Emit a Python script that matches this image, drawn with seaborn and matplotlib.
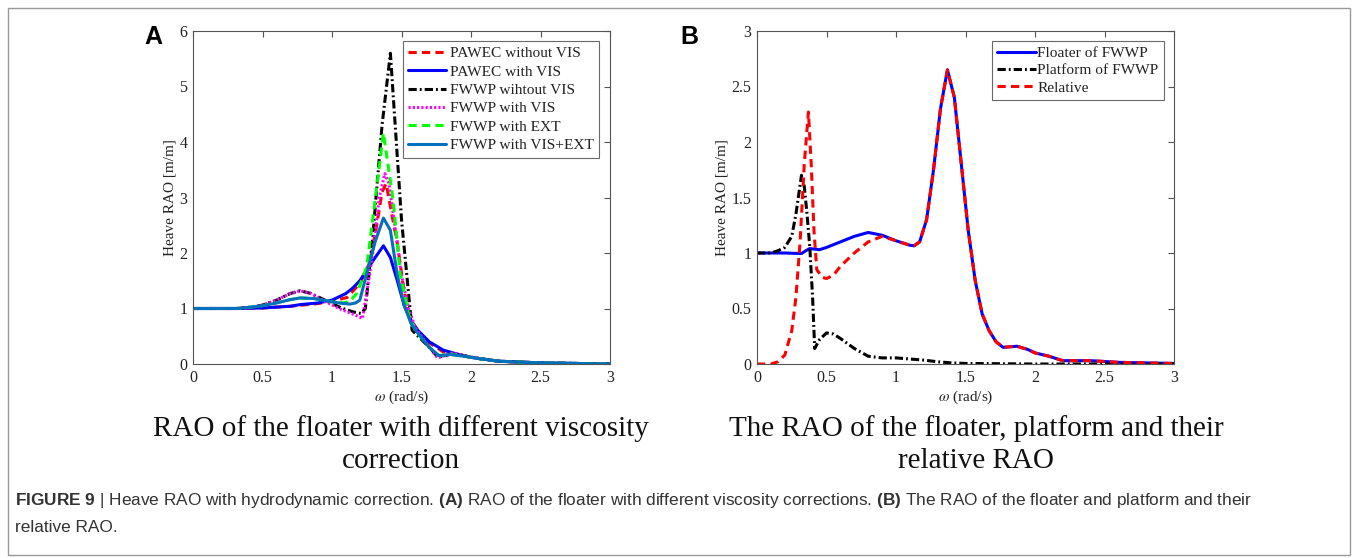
import numpy as np
import matplotlib
matplotlib.use("Agg")
import matplotlib.pyplot as plt
import seaborn as sns
from matplotlib.patches import Rectangle
from matplotlib.ticker import FuncFormatter, MultipleLocator

# ---------------- data: panel A ----------------
xa_pawec_novis = [0, 0.3, 0.5, 0.7, 0.9, 1.0, 1.11, 1.2, 1.27, 1.32, 1.36, 1.39, 1.43, 1.47, 1.51, 1.56, 1.6, 1.7, 1.8, 1.9, 2.0, 2.2, 2.5, 3.0]
ya_pawec_novis = [1, 1, 1.01, 1.04, 1.09, 1.13, 1.2, 1.45, 1.82, 2.47, 3.1, 3.25, 2.7, 2.18, 1.45, 0.79, 0.62, 0.38, 0.22, 0.17, 0.12, 0.05, 0.02, 0.0]

xa_pawec_vis = [0, 0.3, 0.5, 0.7, 0.77, 0.9, 1.0, 1.1, 1.15, 1.2, 1.25, 1.3, 1.37, 1.42, 1.47, 1.52, 1.57, 1.62, 1.7, 1.8, 1.9, 2.0, 2.2, 2.5, 3.0]
ya_pawec_vis = [1, 1, 1.01, 1.04, 1.07, 1.1, 1.15, 1.27, 1.37, 1.5, 1.69, 1.88, 2.13, 1.92, 1.5, 1.05, 0.78, 0.6, 0.4, 0.25, 0.18, 0.12, 0.05, 0.02, 0.0]

xa_fwwp_novis = [0, 0.32, 0.4, 0.5, 0.6, 0.7, 0.77, 0.85, 0.95, 1.05, 1.1, 1.15, 1.21, 1.24, 1.29, 1.36, 1.42, 1.5, 1.576, 1.62, 1.7, 1.76, 1.8, 1.87, 1.95, 2.05, 2.2, 2.5, 3.0]
ya_fwwp_novis = [1, 1, 1.02, 1.06, 1.15, 1.27, 1.32, 1.27, 1.15, 1.03, 0.98, 0.94, 0.91, 1.0, 2.2, 4.3, 5.6, 2.6, 0.61, 0.5, 0.3, 0.13, 0.14, 0.19, 0.15, 0.1, 0.05, 0.02, 0.0]

xa_fwwp_vis = [0, 0.32, 0.4, 0.5, 0.6, 0.7, 0.77, 0.85, 0.95, 1.05, 1.1, 1.15, 1.22, 1.29, 1.34, 1.38, 1.41, 1.46, 1.5, 1.55, 1.6, 1.7, 1.76, 1.8, 1.87, 1.95, 2.05, 2.2, 2.5, 3.0]
ya_fwwp_vis = [1, 1, 1.02, 1.06, 1.15, 1.27, 1.32, 1.27, 1.13, 1.0, 0.95, 0.9, 0.82, 1.93, 3.0, 3.43, 3.25, 2.35, 1.6, 1.0, 0.65, 0.3, 0.11, 0.14, 0.2, 0.15, 0.1, 0.05, 0.02, 0.0]

xa_fwwp_ext = [0, 0.32, 0.4, 0.5, 0.6, 0.7, 0.77, 0.87, 1.0, 1.08, 1.13, 1.18, 1.25, 1.31, 1.37, 1.44, 1.49, 1.55, 1.6, 1.7, 1.77, 1.85, 1.95, 2.05, 2.2, 2.5, 3.0]
ya_fwwp_ext = [1, 1, 1.02, 1.05, 1.1, 1.16, 1.19, 1.18, 1.12, 1.1, 1.13, 1.28, 1.75, 2.95, 4.16, 2.95, 1.64, 0.9, 0.6, 0.3, 0.15, 0.18, 0.14, 0.1, 0.05, 0.02, 0.0]

xa_fwwp_visext = [0, 0.32, 0.4, 0.5, 0.6, 0.7, 0.77, 0.87, 1.0, 1.08, 1.13, 1.17, 1.2, 1.25, 1.31, 1.37, 1.42, 1.47, 1.52, 1.57, 1.62, 1.7, 1.77, 1.85, 1.95, 2.05, 2.2, 2.5, 3.0]
ya_fwwp_visext = [1, 1, 1.02, 1.05, 1.1, 1.16, 1.19, 1.18, 1.12, 1.09, 1.08, 1.1, 1.15, 1.63, 2.2, 2.63, 2.41, 1.6, 1.05, 0.72, 0.55, 0.3, 0.15, 0.17, 0.14, 0.1, 0.05, 0.02, 0.0]

labels_a = ["PAWEC without VIS", "PAWEC with VIS", "FWWP wihtout VIS",
            "FWWP with VIS", "FWWP with EXT", "FWWP with VIS+EXT"]

# ---------------- data: panel B ----------------
xb_floater = [0, 0.2, 0.32, 0.35, 0.38, 0.45, 0.5, 0.6, 0.7, 0.8, 0.9, 1.0, 1.1, 1.13, 1.17, 1.22, 1.27, 1.32, 1.37, 1.42, 1.47, 1.52, 1.57, 1.62, 1.67, 1.72, 1.77, 1.87, 1.95, 2.0, 2.1, 2.2, 2.4, 2.6, 3.0]
yb_floater = [1, 1, 0.995, 1.02, 1.04, 1.03, 1.05, 1.1, 1.15, 1.185, 1.16, 1.11, 1.07, 1.065, 1.1, 1.3, 1.75, 2.3, 2.65, 2.4, 1.8, 1.2, 0.75, 0.45, 0.3, 0.2, 0.15, 0.16, 0.13, 0.1, 0.07, 0.03, 0.03, 0.015, 0.005]

xb_platform = [0, 0.1, 0.15, 0.2, 0.25, 0.28, 0.32, 0.34, 0.36, 0.38, 0.4, 0.415, 0.45, 0.5, 0.55, 0.6, 0.7, 0.8, 0.9, 1.0, 1.1, 1.2, 1.3, 1.4, 1.5, 2.0, 3.0]
yb_platform = [1, 1.0, 1.02, 1.05, 1.15, 1.35, 1.7, 1.6, 1.35, 1.05, 0.6, 0.14, 0.22, 0.28, 0.27, 0.23, 0.14, 0.07, 0.055, 0.055, 0.045, 0.035, 0.02, 0.01, 0.005, 0.0, 0.0]

xb_relative = [0, 0.1, 0.15, 0.2, 0.25, 0.28, 0.31, 0.34, 0.37, 0.39, 0.41, 0.43, 0.47, 0.5, 0.55, 0.6, 0.7, 0.8, 0.9, 1.0, 1.1, 1.13, 1.17, 1.22, 1.27, 1.32, 1.37, 1.42, 1.47, 1.52, 1.57, 1.62, 1.67, 1.72, 1.77, 1.87, 1.95, 2.0, 2.1, 2.2, 2.4, 2.6, 3.0]
yb_relative = [0, 0.0, 0.02, 0.08, 0.3, 0.6, 1.1, 1.8, 2.27, 1.8, 1.2, 0.85, 0.78, 0.77, 0.8, 0.88, 1.0, 1.1, 1.15, 1.11, 1.07, 1.065, 1.1, 1.3, 1.75, 2.3, 2.65, 2.4, 1.8, 1.2, 0.75, 0.45, 0.3, 0.2, 0.15, 0.16, 0.13, 0.1, 0.07, 0.03, 0.03, 0.015, 0.005]

labels_b = ["Floater of FWWP", "Platform of FWWP", "Relative"]

x_ticks = [0, 0.5, 1, 1.5, 2, 2.5, 3]

# ---------------- style ----------------
sns.set_theme(style="white")
plt.rcParams["font.family"] = ["Liberation Serif", "DejaVu Serif"]
plt.rcParams["mathtext.fontset"] = "custom"
plt.rcParams["mathtext.rm"] = "Liberation Sans"
plt.rcParams["mathtext.bf"] = "Liberation Sans:bold"
plt.rcParams["mathtext.it"] = "Liberation Sans:italic"

W, H = 1354, 558
fig = plt.figure(figsize=(W / 100, H / 100), dpi=100)
fig.patch.set_facecolor("white")

def ax_rect(x0, y0, x1, y1):
    return [x0 / W, 1 - y1 / H, (x1 - x0) / W, (y1 - y0) / H]

axA = fig.add_axes(ax_rect(193, 31, 610, 364))
axB = fig.add_axes(ax_rect(757, 31, 1174, 364))

LW = 2.2
DASH = (0, (2.7, 1.7))
DASHDOT = (0, (2.7, 1.0, 0.6, 1.0))
DOT = (0, (0.7, 0.7))

series_a = [
    (xa_pawec_novis, ya_pawec_novis, "#FF0000", DASH),
    (xa_pawec_vis, ya_pawec_vis, "#0000FF", "-"),
    (xa_fwwp_novis, ya_fwwp_novis, "#000000", DASHDOT),
    (xa_fwwp_vis, ya_fwwp_vis, "#FF00FF", DOT),
    (xa_fwwp_ext, ya_fwwp_ext, "#00FF00", DASH),
    (xa_fwwp_visext, ya_fwwp_visext, "#0072BD", "-"),
]
for (xs, ys, c, ls), lab in zip(series_a, labels_a):
    sns.lineplot(x=xs, y=ys, ax=axA, color=c, linestyle=ls, linewidth=LW,
                 label=lab, estimator=None, sort=False)

series_b = [
    (xb_floater, yb_floater, "#0000FF", "-"),
    (xb_platform, yb_platform, "#000000", DASHDOT),
    (xb_relative, yb_relative, "#FF0000", DASH),
]
for (xs, ys, c, ls), lab in zip(series_b, labels_b):
    sns.lineplot(x=xs, y=ys, ax=axB, color=c, linestyle=ls, linewidth=LW,
                 label=lab, estimator=None, sort=False)

fmt = FuncFormatter(lambda v, p: "%g" % v)
for ax, ymax, ystep in [(axA, 6, 1), (axB, 3, 0.5)]:
    ax.set_xlim(0, 3)
    ax.set_ylim(0, ymax)
    ax.set_xticks(x_ticks)
    ax.yaxis.set_major_locator(MultipleLocator(ystep))
    ax.xaxis.set_major_formatter(fmt)
    ax.yaxis.set_major_formatter(fmt)
    ax.tick_params(direction="in", top=True, right=True, length=4, width=0.8,
                   color="#555555", labelsize=11.5, labelcolor="#222222", pad=4)
    for sp in ax.spines.values():
        sp.set_color("#555555")
        sp.set_linewidth(0.8)
    ax.set_xlabel(r"$\omega$ (rad/s)", fontsize=11, color="#222222", labelpad=2,
                  math_fontfamily="stix")
    ax.set_ylabel("Heave RAO [m/m]", fontsize=11, color="#222222", labelpad=2)
    ax.set_facecolor("white")

legA = axA.legend(loc="upper right", bbox_to_anchor=((599 - 193) / 417, (364 - 41) / 333),
                  borderaxespad=0, fontsize=11.1, frameon=True, fancybox=False,
                  edgecolor="#444444", handlelength=2.45, handletextpad=0.25,
                  labelspacing=0.3, borderpad=0.35)
legB = axB.legend(loc="upper right", bbox_to_anchor=((1164 - 757) / 417, (364 - 41) / 333),
                  borderaxespad=0, fontsize=11.1, frameon=True, fancybox=False,
                  edgecolor="#444444", handlelength=2.5, handletextpad=0.1,
                  labelspacing=0.22, borderpad=0.35)
for lg in (legA, legB):
    lg.get_frame().set_linewidth(0.8)
    for t in lg.get_texts():
        t.set_color("#222222")

# panel letters
fig.text(153 / W, 1 - 37 / H, "A", fontsize=18, fontweight="bold", family="Liberation Sans",
         ha="center", va="center", color="black")
fig.text(689 / W, 1 - 37 / H, "B", fontsize=18, fontweight="bold", family="Liberation Sans",
         ha="center", va="center", color="black")

# subtitles
fig.text(401 / W, 1 - 445 / H, "RAO of the floater with different viscosity\ncorrection",
         fontsize=21, ha="center", va="center", linespacing=1.3, color="#111111")
fig.text(976 / W, 1 - 445 / H, "The RAO of the floater, platform and their\nrelative RAO",
         fontsize=21, ha="center", va="center", linespacing=1.3, color="#111111")

# caption
cap1 = (r"$\bf{FIGURE\ 9}$ | Heave RAO with hydrodynamic correction. $\bf{(A)}$ RAO of the floater "
        r"with different viscosity corrections. $\bf{(B)}$ The RAO of the floater and platform and their")
fig.text(15 / W, 1 - 500 / H, cap1, fontsize=12.4, family="Liberation Sans", ha="left",
         va="center", color="#333333", math_fontfamily="custom")
fig.text(15 / W, 1 - 527 / H, "relative RAO.", fontsize=12.4, family="Liberation Sans",
         ha="left", va="center", color="#333333")

# outer border
fig.patches.append(Rectangle((8 / W, 1 - 555 / H), (1350 - 8) / W, (555 - 8) / H,
                             transform=fig.transFigure, fill=False, edgecolor="#999999",
                             linewidth=1.0))

fig.savefig("out.png", dpi=100, facecolor="white")
